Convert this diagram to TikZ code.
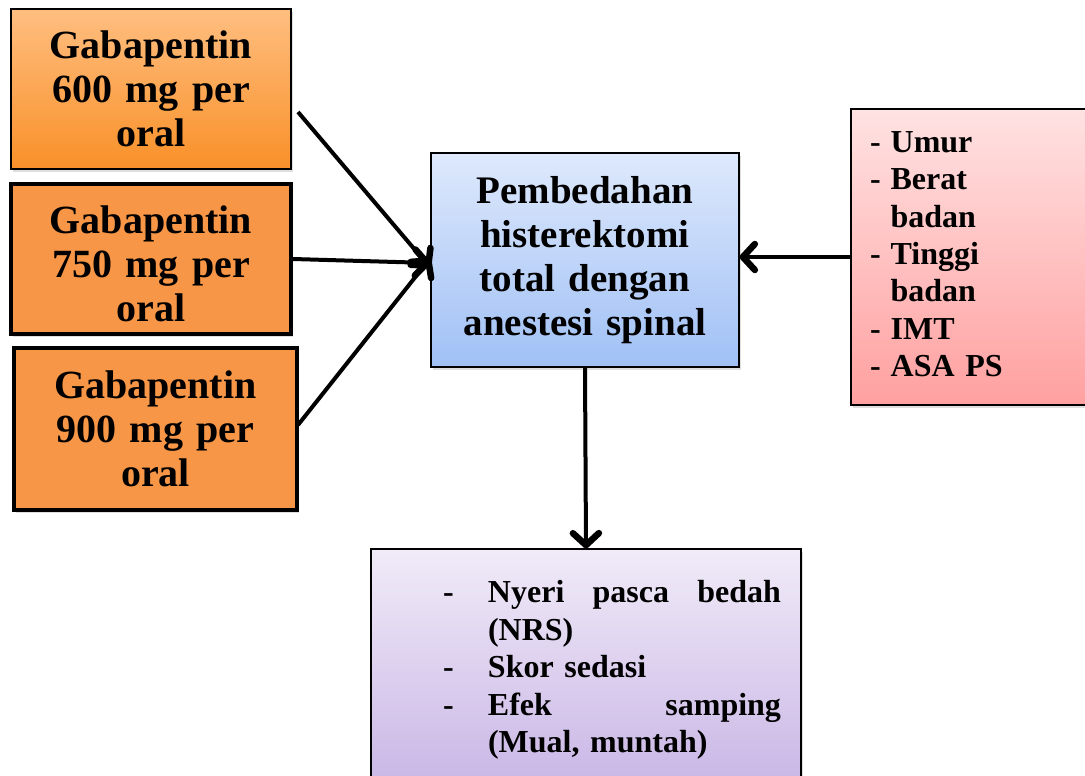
\documentclass[tikz,border=0pt]{standalone}
\usepackage{fontspec}
\setmainfont{Liberation Serif}
\usetikzlibrary{arrows.meta,shadows}

\definecolor{oranye}{RGB}{247,150,70}
\definecolor{oranyeatas}{RGB}{255,190,128}
\definecolor{oranyebawah}{RGB}{248,144,40}
\definecolor{biruatas}{RGB}{222,233,252}
\definecolor{birubawah}{RGB}{160,192,245}
\definecolor{merahatas}{RGB}{255,226,226}
\definecolor{merahbawah}{RGB}{255,160,160}
\definecolor{unguatas}{RGB}{241,235,248}
\definecolor{ungubawah}{RGB}{200,181,229}

\begin{document}
\begin{tikzpicture}[x=1pt,y=-1pt,line width=1.2pt,
  kotak/.style={draw,inner sep=0pt,align=center,
    drop shadow={shadow xshift=2pt,shadow yshift=-3pt,opacity=.25}},
  dosis/.style={kotak,font=\fontsize{40}{44}\selectfont\bfseries,text width=270pt},
  panah/.style={-{Straight Barb[length=12pt,width=26pt,line width=6.5pt,round]},
    line width=4pt}]
  \useasboundingbox (0,0) rectangle (1085,776);
  % dosis gabapentin
  \node[dosis,top color=oranyeatas,bottom color=oranyebawah,
    minimum width=280pt,minimum height=160pt] (obat1) at (151,89)
    {Gabapentin\\600 mg per\\oral};
  \node[dosis,fill=oranye,line width=4pt,
    minimum width=280pt,minimum height=150pt] (obat2) at (151,259)
    {\rule{0pt}{38pt}Gabapentin\\750 mg per\\oral};
  \node[dosis,fill=oranye,line width=4pt,
    minimum width=283pt,minimum height=162pt] (obat3) at (155.5,429)
    {Gabapentin\\900 mg per\\oral};
  % pembedahan
  \node[kotak,top color=biruatas,bottom color=birubawah,
    minimum width=308pt,minimum height=214pt,text width=290pt,
    font=\fontsize{39}{44}\selectfont\bfseries] (bedah) at (585,260)
    {Pembedahan\\histerektomi\\total dengan\\anestesi spinal};
  % karakteristik
  \node[kotak,top color=merahatas,bottom color=merahbawah,
    minimum width=240pt,minimum height=296pt,text width=210pt,align=left,
    font=\fontsize{32}{37.3}\selectfont\bfseries] (faktor) at (971,257)
    {\begin{tabular}{@{\hspace{4pt}}l@{\hspace{10pt}}l@{}}
      - & Umur\\
      - & Berat\\
        & badan\\
      - & Tinggi\\
        & badan\\
      - & IMT\\
      - & ASA PS
    \end{tabular}};
  % luaran
  \node[kotak,top color=unguatas,bottom color=ungubawah,
    minimum width=430pt,minimum height=242pt,text width=390pt,align=left,
    font=\fontsize{32}{37.5}\selectfont\bfseries] (hasil) at (586,670)
    {\begin{tabular}{@{\hspace{52pt}}p{45pt}@{}p{293pt}@{}}
      - & Nyeri\hfill pasca\hfill bedah\\
        & (NRS)\\
      - & Skor sedasi\\
      - & Efek\hfill samping\\
        & (Mual, muntah)
    \end{tabular}};
  % panah
  \coordinate (dari1) at (298,112);
  \coordinate (dari3) at (298,425);
  \draw[panah] (dari1) -- ([yshift=-8pt]bedah.west);
  \draw[panah] (obat2.east) -- ([yshift=-3pt]bedah.west);
  \draw[panah] (dari3) -- ([yshift=2pt]bedah.west);
  \draw[panah] (faktor.west) -- ([yshift=3pt]bedah.east);
  \draw[panah] (bedah.south) -- (hasil.north);
\end{tikzpicture}
\end{document}
